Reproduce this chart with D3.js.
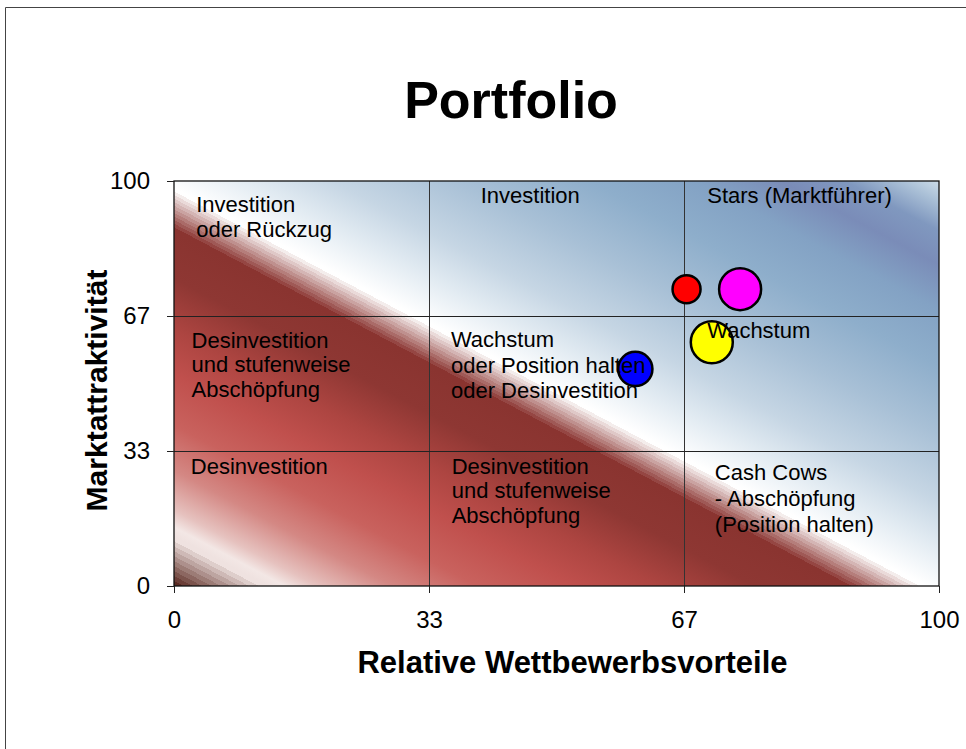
<!DOCTYPE html>
<html><head><meta charset="utf-8">
<script src="https://cdn.jsdelivr.net/npm/d3@7"></script>
<style>body{margin:0;background:#fff;} svg{display:block;font-family:"Liberation Sans", Arial, sans-serif;}</style>
</head><body><svg id="c" width="966" height="749"></svg>
<script>
// ---- data ----
const tickValues = [0, 100/3, 200/3, 100];
const tickLabels = ["0", "33", "67", "100"];
const bubbleX = [67, 74, 70.3, 60.3];
const bubbleY = [73.3, 73.3, 60.2, 53.6];
const bubbleSize = [4, 9, 9, 6];
const bubbleColors = ["#ff0000", "#ff00ff", "#ffff00", "#0000ff"];
const titleText = "Portfolio";
const xTitle = "Relative Wettbewerbsvorteile";
const yTitle = "Marktattraktivität";
const quadrantLabels = [
  {x: 2.9,  y: 92.3, lh: 25,   lines: ["Investition", "oder Rückzug"]},
  {x: 40.1, y: 94.6, lh: 25,   lines: ["Investition"]},
  {x: 69.7, y: 94.6, lh: 25,   lines: ["Stars (Marktführer)"]},
  {x: 2.3,  y: 58.8, lh: 24.5, lines: ["Desinvestition", "und stufenweise", "Abschöpfung"]},
  {x: 36.2, y: 59.0, lh: 25.5, lines: ["Wachstum", "oder Position halten", "oder Desinvestition"]},
  {x: 69.7, y: 61.2, lh: 25,   lines: ["Wachstum"]},
  {x: 2.2,  y: 27.7, lh: 25,   lines: ["Desinvestition"]},
  {x: 36.3, y: 27.7, lh: 24.5, lines: ["Desinvestition", "und stufenweise", "Abschöpfung"]},
  {x: 70.7, y: 26.2, lh: 26,   lines: ["Cash Cows", "- Abschöpfung", "(Position halten)"]}
];

// ---- layout ----
const L = 174, R = 939, T = 181, B = 586;
const svg = d3.select("#c");
const x = d3.scaleLinear().domain([0, 100]).range([L, R]);
const y = d3.scaleLinear().domain([0, 100]).range([B, T]);
const r = d3.scaleSqrt().domain([0, 9]).range([0, 21]);

// page frame
svg.append("path").attr("d", `M5.5,749 V7.5 H966`).attr("fill", "none").attr("stroke", "#444").attr("stroke-width", 1);

// ---- background gradient ----
const dx = R - L, dy = B - T, len = Math.hypot(dx, dy);
const nx = -dy / len, ny = dx / len; // normal pointing down-left
const total = (L - R) * nx + (B - T) * ny;
const defs = svg.append("defs");
const grad = defs.append("linearGradient").attr("id", "bg").attr("gradientUnits", "userSpaceOnUse")
  .attr("x1", R).attr("y1", T).attr("x2", R + nx * total).attr("y2", T + ny * total);
const pxStop = p => p / 716;
const w = pxStop(364);
const stops = [
  [0, "#cbdbe8"], [pxStop(19), "#a9bfd6"], [pxStop(44), "#8098bf"], [pxStop(74), "#7a8cb8"],
  [pxStop(114), "#83a2c4"], [pxStop(164), "#8eaecb"], [pxStop(224), "#a8c0d6"], [pxStop(284), "#c6d6e4"],
  [pxStop(324), "#e2ebf2"], [w, "#ffffff"]
];
function bands(o0, c0, o1, c1, n) {
  const it = d3.interpolateRgb(c0, c1);
  for (let i = 0; i < n; i++) {
    const c = it(i / (n - 1));
    stops.push([o0 + (o1 - o0) * i / n, c]);
    stops.push([o0 + (o1 - o0) * (i + 1) / n, c]);
  }
}
bands(w, "#ffffff", pxStop(402), "#8a3430", 12);
stops.push([pxStop(444), "#8e3733"], [pxStop(489), "#ad4541"], [pxStop(529), "#c0504d"],
  [pxStop(574), "#c9625e"], [pxStop(614), "#d48884"], [pxStop(649), "#e6c2bf"], [pxStop(664), "#f3e7e5"], [pxStop(672), "#efe2e0"]);
bands(pxStop(672), "#efe2e0", 1, "#5a2a22", 10);
stops.forEach(s => grad.append("stop").attr("offset", s[0]).attr("stop-color", s[1]));

svg.append("rect").attr("x", L).attr("y", T).attr("width", R - L).attr("height", B - T).attr("fill", "url(#bg)");

// grid lines
svg.append("g").selectAll("line").data(tickValues.slice(1, 3)).join("line")
  .attr("x1", d => x(d)).attr("x2", d => x(d)).attr("y1", T).attr("y2", B)
  .attr("stroke", "#333").attr("stroke-width", 1).attr("shape-rendering", "crispEdges");
svg.append("g").selectAll("line").data(tickValues.slice(1, 3)).join("line")
  .attr("y1", d => y(d)).attr("y2", d => y(d)).attr("x1", L).attr("x2", R)
  .attr("stroke", "#222").attr("stroke-width", 1).attr("shape-rendering", "crispEdges");

// plot border
svg.append("rect").attr("x", L).attr("y", T).attr("width", R - L).attr("height", B - T)
  .attr("fill", "none").attr("stroke", "#111").attr("stroke-width", 1.3);

// axes
const fmt = (d, i) => tickLabels[i];
const xAxis = svg.append("g").attr("transform", `translate(0,${B})`)
  .call(d3.axisBottom(x).tickValues(tickValues).tickFormat(fmt).tickSize(7).tickPadding(18));
const yAxis = svg.append("g").attr("transform", `translate(${L},0)`)
  .call(d3.axisLeft(y).tickValues(tickValues).tickFormat(fmt).tickSize(7).tickPadding(17));
[xAxis, yAxis].forEach(a => {
  a.select(".domain").remove();
  a.selectAll(".tick line").attr("stroke", "#222");
  a.selectAll(".tick text").attr("font-size", 24).attr("fill", "#000")
    .attr("font-family", '"Liberation Sans", Arial, sans-serif');
});

// bubbles
const idx = d3.range(bubbleX.length);
svg.append("g").selectAll("circle").data(idx).join("circle")
  .attr("cx", i => x(bubbleX[i])).attr("cy", i => y(bubbleY[i])).attr("r", i => r(bubbleSize[i]))
  .attr("fill", i => bubbleColors[i]).attr("stroke", "#000").attr("stroke-width", 2.5);

// quadrant labels
const ql = svg.append("g").attr("font-size", 22).attr("fill", "#000");
quadrantLabels.forEach(q => {
  const t = ql.append("text").attr("x", x(q.x)).attr("y", y(q.y));
  q.lines.forEach((ln, i) => t.append("tspan").attr("x", x(q.x)).attr("dy", i === 0 ? 0 : q.lh).text(ln));
});

// titles
svg.append("text").attr("x", 511).attr("y", 118).attr("text-anchor", "middle")
  .attr("font-size", 52).attr("font-weight", "bold").text(titleText);
svg.append("text").attr("x", 572.5).attr("y", 673).attr("text-anchor", "middle")
  .attr("font-size", 31).attr("font-weight", "bold").text(xTitle);
svg.append("text").attr("transform", `translate(107,${(T + B) / 2 + 7}) rotate(-90)`).attr("text-anchor", "middle")
  .attr("font-size", 30).attr("font-weight", "bold").text(yTitle);
</script>
</body></html>
